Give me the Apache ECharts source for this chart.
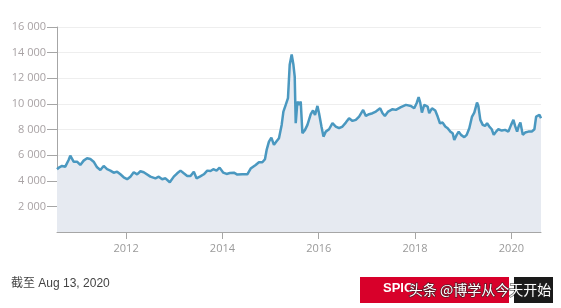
<!DOCTYPE html>
<html><head><meta charset="utf-8">
<script src="https://cdn.jsdelivr.net/npm/echarts@6/dist/echarts.min.js"></script>
<style>html,body{margin:0;padding:0;background:#fff}#c{width:561px;height:308px}</style>
</head><body><div id="c"></div>
<script>
// dates as decimal years
const dates = [2010.565,2010.613,2010.669,2010.737,2010.806,2010.841,2010.910,2010.981,2011.049,2011.118,2011.189,2011.257,2011.326,2011.397,2011.465,2011.534,2011.605,2011.673,2011.742,2011.813,2011.881,2011.950,2012.021,2012.089,2012.158,2012.229,2012.297,2012.366,2012.401,2012.505,2012.609,2012.678,2012.749,2012.817,2012.907,2012.990,2013.061,2013.129,2013.198,2013.269,2013.337,2013.406,2013.462,2013.531,2013.614,2013.685,2013.753,2013.810,2013.878,2013.941,2014.018,2014.086,2014.155,2014.238,2014.309,2014.413,2014.517,2014.586,2014.690,2014.758,2014.829,2014.883,2014.918,2014.966,2015.016,2015.070,2015.120,2015.174,2015.230,2015.266,2015.314,2015.361,2015.397,2015.438,2015.474,2015.501,2015.522,2015.557,2015.590,2015.626,2015.661,2015.715,2015.765,2015.834,2015.881,2015.923,2015.973,2016.006,2016.056,2016.098,2016.146,2016.214,2016.285,2016.354,2016.422,2016.493,2016.562,2016.630,2016.701,2016.770,2016.838,2016.922,2016.978,2017.046,2017.117,2017.186,2017.275,2017.325,2017.373,2017.441,2017.533,2017.602,2017.706,2017.810,2017.914,2017.982,2018.032,2018.074,2018.107,2018.142,2018.190,2018.261,2018.294,2018.351,2018.419,2018.469,2018.517,2018.573,2018.627,2018.677,2018.731,2018.781,2018.814,2018.864,2018.906,2018.954,2019.022,2019.072,2019.126,2019.183,2019.230,2019.286,2019.314,2019.355,2019.405,2019.453,2019.495,2019.542,2019.592,2019.634,2019.682,2019.730,2019.800,2019.869,2019.938,2019.994,2020.042,2020.077,2020.119,2020.154,2020.187,2020.237,2020.285,2020.354,2020.424,2020.478,2020.514,2020.549,2020.583,2020.615];
const values = [4900,5050,5156,5100,5625,5960,5490,5490,5234,5570,5755,5700,5490,5050,4844,5156,4900,4790,4630,4710,4505,4270,4120,4320,4660,4500,4740,4660,4630,4320,4190,4320,4120,4190,3880,4320,4580,4790,4580,4375,4375,4710,4190,4320,4505,4790,4765,4900,4790,5025,4630,4530,4600,4630,4480,4500,4500,4950,5234,5445,5445,5680,6406,7055,7370,6800,7055,7320,8360,9400,9920,10445,13050,13850,13050,12130,8490,10180,9920,10180,7710,7970,8360,9200,9480,9140,9840,9270,8230,7445,7835,8020,8490,8230,8100,8230,8540,8880,8670,8750,9010,9530,9060,9195,9270,9400,9660,9270,9060,9400,9585,9530,9740,9920,9840,9660,10050,10520,10100,9320,9920,9790,9270,9660,9480,9010,8490,8540,8230,8100,7835,7710,7190,7580,7835,7580,7400,7580,8100,9010,9320,10100,9840,8750,8360,8280,8490,8230,8020,7580,7835,8020,7915,7970,7835,8360,8750,8280,7835,8280,8540,7580,7760,7835,7835,8020,9010,8880,9140,8880];
const xTickYears = [2012, 2014, 2016, 2018, 2020];
const yTicks = [0, 2000, 4000, 6000, 8000, 10000, 12000, 14000, 16000];
const footnote = '截至 Aug 13, 2020';
const buttonText = 'SPIC';
const watermark = '头条 @博学从今天开始';

const chart = echarts.init(document.getElementById('c'), null, {renderer: 'canvas'});
const fmtNum = v => String(v).replace(/\B(?=(\d{3})+(?!\d))/g, ' ');
chart.setOption({
  animation: false,
  grid: {left: 57, right: 20, top: 27, bottom: 76},
  xAxis: {
    type: 'value',
    min: dates[0], max: dates[dates.length - 1],
    axisLine: {lineStyle: {color: '#a6a6a6', width: 1}},
    axisTick: {show: true, length: 7, customValues: xTickYears, lineStyle: {color: '#a6a6a6'}},
    axisLabel: {customValues: xTickYears, margin: 11, color: '#9a9a9a', fontSize: 11, fontFamily: 'Open Sans', formatter: v => String(Math.round(v))},
    splitLine: {show: false}
  },
  yAxis: {
    type: 'value', min: yTicks[0], max: yTicks[yTicks.length - 1], interval: 2000,
    axisLine: {show: true, lineStyle: {color: '#a6a6a6', width: 1}},
    axisTick: {show: true, length: 10, lineStyle: {color: '#a6a6a6'}},
    axisLabel: {margin: 11, color: '#a8a2a4', fontSize: 11, fontFamily: 'Open Sans', showMinLabel: false, formatter: v => v === 0 ? '' : fmtNum(v)},
    splitLine: {show: true, lineStyle: {color: '#eeeeee', width: 1}}
  },
  series: [{
    type: 'line',
    data: dates.map((d, i) => [d, values[i]]),
    symbol: 'none',
    lineStyle: {color: '#4a98c0', width: 2.5},
    areaStyle: {color: '#e6eaf1', opacity: 1},
    z: 3
  }],
  graphic: [
    {type: 'text', left: 11, top: 278, style: {text: footnote, fill: '#444', font: '12px "Liberation Sans", "Noto Sans CJK SC", sans-serif'}},
    {type: 'rect', shape: {x: 360, y: 277, width: 149, height: 26}, style: {fill: '#d8002a'}},
    {type: 'rect', shape: {x: 514, y: 277, width: 39, height: 26}, style: {fill: '#1a1a1a'}},
    {type: 'text', left: 383, top: 282, style: {text: buttonText, fill: '#fff', font: 'bold 13px "Liberation Sans", sans-serif'}},
    {type: 'text', left: 408, top: 282, z: 10, style: {text: watermark, fill: '#ffffff', stroke: 'rgba(40,40,40,0.7)', lineWidth: 1.5, font: '14px "Noto Sans CJK SC", sans-serif'}}
  ]
});
</script></body></html>
